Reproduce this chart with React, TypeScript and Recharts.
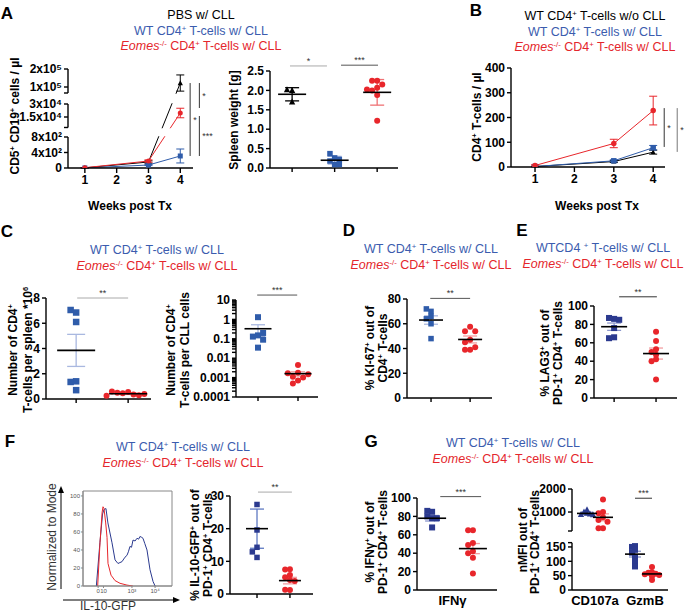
import React from "react";
import {
  ComposedChart,
  ScatterChart,
  LineChart,
  Line,
  Scatter,
  XAxis,
  YAxis,
  ErrorBar,
  ReferenceLine,
  ReferenceArea,
} from "recharts";

const FONT = '"Liberation Sans", Arial, Helvetica, sans-serif';
const BLUE = "#2f5caa";
const BLUE_LT = "#a9b8e0";
const NAVY = "#2b3a8f";
const NAVY_LT = "#8c97cc";
const RED = "#e8262b";
const RED_LT = "#f29ea1";
const T_BLUE = "#3b5cae";
const T_RED = "#e4262c";

// ---- A: CLL load in blood (CD5+ CD19+ cells / µl)
const weeksA = [1, 3, 4];
const pbsLoad = [4, 155, 122000];
const pbsLoadSd = [2, 30, 45000];
const wtLoad = [2, 77, 310];
const wtLoadSd = [1, 15, 180];
const eoLoad = [8, 180, 19600];
const eoLoadSd = [3, 30, 5500];
const loadTicks = [0, 400, 800, 2900, 15000, 30000, 66667, 100000, 200000];
const loadTickLabels = ["0", "4x10²", "8x10²", "", "1.5x10⁴", "3x10⁴", "", "1x10⁵", "2x10⁵"];

// ---- A: spleen weight [g]
const spleenPbs = [2.0, 2.02, 1.7];
const spleenWt = [0.26, 0.18, 0.37, 0.22, 0.09, 0.09];
const spleenEo = [2.25, 2.25, 2.15, 2.07, 2.0, 2.02, 1.88, 1.22];
const spleenMean = [1.9, 0.2, 1.95];
const spleenErr = [0.17, 0.1, 0.33];

// ---- B: CD4+ T-cells / µl
const weeksB = [1, 3, 4];
const noCllT = [2, 22, 60];
const noCllTSd = [1, 4, 8];
const wtT = [2, 25, 78];
const wtTSd = [1, 4, 9];
const eoT = [6, 95, 228];
const eoTSd = [3, 17, 58];

// ---- C: CD4+ per spleen (*10^6) and per CLL cell
const spleenCd4Wt = [6.85, 7.05, 6.1, 1.4, 1.35, 0.7];
const spleenCd4Eo = [0.55, 0.45, 0.35, 0.5, 0.3, 0.6, 0.4, 0.25];
const spleenCd4Mean = [3.85, 0.42];
const spleenCd4Err = [1.27, 0.06];
const perCllWt = [1.3, 0.15, 0.13, 0.2, 0.09, 0.035];
const perCllEo = [0.0045, 0.0018, 0.0011, 0.001, 0.0017, 0.0007, 0.0005, 0.0015];
const perCllMean = [0.33, 0.0016];
const perCllErr = [0.2, 0.0004];
const logTicks = [0.0001, 0.001, 0.01, 0.1, 1, 10];
const logLabels = ["0.0001", "0.001", "0.01", "0.1", "1", "10"];

// ---- D: % KI-67+
const ki67Wt = [70, 72, 66, 64, 60, 48];
const ki67Eo = [57.5, 54, 54, 47, 45, 39, 39, 41];
const ki67Mean = [63, 47.3];
const ki67Err = [3.4, 2.8];

// ---- E: % LAG3+
const lag3Wt = [86, 87, 85, 76, 66, 65];
const lag3Eo = [72, 62, 53, 50, 47, 42, 40, 20];
const lag3Mean = [77.5, 48.3];
const lag3Err = [4, 6];

// ---- F: IL-10-GFP histogram + % IL-10-GFP+
const histX = [15, 19, 22, 23.6, 25.8, 28, 32.6, 36, 39.3, 41.5, 43.8, 47.2, 49.4, 51, 52.8, 54.5, 56.2, 58.5, 60.7, 62.5, 64, 66, 67.4, 69.5, 71.9, 75.3, 78.7, 81];
const histWt = [0, 48, 80, 85, 86, 70, 48, 29, 25, 26, 27, 32, 34, 38, 44, 43, 51, 50, 53, 52, 55, 54, 53, 47, 40, 18, 5, 0];
const histEoX = [16.5, 19.1, 21.5, 22.5, 23.6, 25.5, 27, 28.1, 31.5, 36, 41.6, 49.4, 56];
const histEo = [0, 48, 82, 88, 86, 70, 54, 25, 12, 6, 3, 1, 0];
const histTicks = [17, 23, 55, 81];
const histTickLabels = ["0", "10", "10³", "10⁴"];
const il10Wt = [27.4, 19.6, 14.3, 12.9, 11.2];
const il10Eo = [7.6, 7.5, 5.8, 5.1, 4.3, 4.0, 1.2, 1.3];
const il10Mean = [20, 4.1];
const il10Err = [6, 1.0];

// ---- G: IFNγ, CD107a / GzmB nMFI
const ifngWt = [85, 86, 80, 78, 78, 68];
const ifngEo = [65, 65, 51, 49, 42, 40, 35, 18];
const ifngMean = [78, 45];
const ifngErr = [3, 5.5];
const cd107Wt = [1100, 1000, 950, 920, 900, 880];
const cd107Eo = [1550, 1000, 950, 770, 650, 580, 300, 300];
const gzmbWt = [153, 150, 140, 130, 115, 100, 82];
const gzmbEo = [80, 62, 60, 57, 55, 52, 48, 35];
const nmfiMean = [940, 770, 125, 56];
const nmfiErr = [50, 150, 10, 5];
const nmfiTicks = [0, 50, 100, 150, 165, 175, 1000, 2000];
const nmfiTickLabels = ["0", "50", "100", "150", "", "", "1000", "2000"];

// broken axis in panel A (display units = px above baseline)
function dispA(v: number) {
  if (v <= 800) return (v / 800) * 31;
  if (v < 2900) return 31 + ((v - 800) / 2100) * 9.5;
  if (v <= 30000) return 38 + (v / 15000) * 13;
  if (v < 66667) return 64 + ((v - 30000) / 36667) * 11;
  return 63 + (v / 100000) * 18;
}
// broken axis in panel G right
function dispG(v: number) {
  if (v <= 165) return v * 0.287;
  if (v < 175) return 47.3 + ((v - 165) / 10) * 11.7;
  return 59 + (v - 175) * 0.023;
}

const AX = { stroke: "#000", strokeWidth: 1.4 };
const TICK = { fontSize: 12, fontWeight: 700, fill: "#000" };

type Shape = "square" | "circle" | "triangle";

function Mark({ cx, cy, shape, size, color }: { cx: number; cy: number; shape: Shape; size: number; color: string }) {
  if (cx == null || cy == null || isNaN(cx) || isNaN(cy)) return <g />;
  const r = size / 2;
  if (shape === "square") return <rect x={cx - r} y={cy - r} width={size} height={size} fill={color} />;
  if (shape === "triangle")
    return (
      <polygon
        points={`${cx},${cy - r * 1.15} ${cx - r * 1.05},${cy + r * 0.85} ${cx + r * 1.05},${cy + r * 0.85}`}
        fill={color}
      />
    );
  return <circle cx={cx} cy={cy} r={r} fill={color} />;
}

// simple beeswarm: horizontal pixel offsets so that marks don't pile up
function swarm(ys: number[], gap: number): number[] {
  const placed: [number, number][] = [];
  return ys.map((y) => {
    for (let k = 0; k < 15; k++) {
      const off = k === 0 ? 0 : (k % 2 ? -1 : 1) * Math.ceil(k / 2) * gap;
      if (placed.every(([px, py]) => Math.hypot(px - off, py - y) >= gap - 0.01)) {
        placed.push([off, y]);
        return off;
      }
    }
    return 0;
  });
}

function labeller(ticks: number[], labels: string[], f: (v: number) => number) {
  return (v: number) => {
    const i = ticks.findIndex((t) => Math.abs(f(t) - v) <= 1e-6 * Math.max(1e-6, Math.abs(v)) + 1e-9);
    return i >= 0 ? labels[i] : "";
  };
}

const errD = (f: (v: number) => number, m: number, e: number) => [f(m) - f(Math.max(m - e, 1e-9)), f(m + e) - f(m)];

type Box = { x0: number; x1: number; yTop: number; yBot: number };
type Grp = {
  x: number;
  vals: number[];
  mean: number;
  err: number;
  color: string;
  errColor: string;
  shape: Shape;
  size: number;
  spread?: number;
};
type Sig = { x1: number; x2: number; y: number; text: string; color: string };

type DotSpec = {
  box: Box;
  xDomain: [number, number];
  yDomain: [number, number];
  yTicks: number[];
  yTickLabels: string[];
  log?: boolean;
  disp?: (v: number) => number;
  groups: Grp[];
  sigs: Sig[];
  meanW: number;
  capW: number;
  yw: number;
  mt?: number;
  mr?: number;
  xh?: number;
  xTicks: number[];
  xTickLabels?: string[];
  xTickLine?: boolean;
  axisSegs?: [number, number][];
};

function DotPanel(p: DotSpec) {
  const { box } = p;
  const mt = p.mt ?? 18;
  const mr = p.mr ?? 8;
  const xh = p.xh ?? 10;
  const f = p.disp ?? ((v: number) => v);
  const h = box.yBot - box.yTop;
  const [d0, d1] = p.yDomain;
  const toPx = (v: number) =>
    p.log
      ? ((Math.log10(v) - Math.log10(d0)) / (Math.log10(d1) - Math.log10(d0))) * h
      : ((f(v) - d0) / (d1 - d0)) * h;
  const pxPerX = (box.x1 - box.x0) / (p.xDomain[1] - p.xDomain[0]);
  const yFmt = labeller(p.yTicks, p.yTickLabels, f);
  return (
    <div style={{ position: "absolute", left: box.x0 - p.yw, top: box.yTop - mt }}>
      <ScatterChart
        width={box.x1 - box.x0 + p.yw + mr}
        height={h + mt + xh}
        margin={{ top: mt, right: mr, bottom: 0, left: 0 }}
      >
        <XAxis
          type="number"
          dataKey="x"
          domain={p.xDomain}
          allowDataOverflow
          ticks={p.xTicks}
          interval={0}
          tickFormatter={(v: number) => {
            const i = p.xTicks.indexOf(v);
            return p.xTickLabels && i >= 0 ? p.xTickLabels[i] : "";
          }}
          tick={{ ...TICK, fontSize: 13 }}
          tickSize={4}
          tickLine={p.xTickLine === false ? false : AX}
          axisLine={AX}
          height={xh}
        />
        <YAxis
          type="number"
          dataKey="y"
          scale={p.log ? "log" : "linear"}
          domain={p.yDomain}
          allowDataOverflow
          ticks={p.yTicks.map(f)}
          interval={0}
          tickFormatter={yFmt}
          tick={TICK}
          tickSize={4}
          tickLine={AX}
          axisLine={p.axisSegs ? false : AX}
          width={p.yw}
        />
        {p.axisSegs &&
          p.axisSegs.map((s, i) => (
            <ReferenceLine
              key={"seg" + i}
              segment={[
                { x: p.xDomain[0], y: s[0] },
                { x: p.xDomain[0], y: s[1] },
              ]}
              stroke="#000"
              strokeWidth={1.4}
              ifOverflow="visible"
            />
          ))}
        {p.groups.map((g, gi) => {
          const offs = swarm(g.vals.map(toPx), g.size * (g.spread ?? 0.85));
          const pts = g.vals.map((v, i) => ({ x: g.x + offs[i] / pxPerX, y: f(v) }));
          return (
            <Scatter
              key={"pts" + gi}
              data={pts}
              isAnimationActive={false}
              shape={(s: any) => <Mark cx={s.cx} cy={s.cy} shape={g.shape} size={g.size} color={g.color} />}
            />
          );
        })}
        {p.groups.map((g, gi) => (
          <Scatter
            key={"mean" + gi}
            data={[{ x: g.x, y: f(g.mean), e: errD(f, g.mean, g.err) }]}
            isAnimationActive={false}
            shape={(s: any) => (
              <line x1={s.cx - p.meanW / 2} x2={s.cx + p.meanW / 2} y1={s.cy} y2={s.cy} stroke="#000" strokeWidth={1.6} />
            )}
          >
            <ErrorBar dataKey="e" direction="y" width={p.capW} stroke={g.errColor} strokeWidth={1.3} />
          </Scatter>
        ))}
        {p.sigs.map((s, i) => (
          <ReferenceLine
            key={"sig" + i}
            segment={[
              { x: s.x1, y: f(s.y) },
              { x: s.x2, y: f(s.y) },
            ]}
            stroke={s.color}
            strokeWidth={1}
            ifOverflow="visible"
            label={{ value: s.text, position: "top", fontSize: 9, fill: "#333", offset: 2 }}
          />
        ))}
      </ScatterChart>
    </div>
  );
}

type Series = { key: string; vals: number[]; sds: number[]; color: string; shape: Shape; size: number };
type VSig = { x: number; from: number; to: number; text: string; color: string };

function TimeCourse(p: {
  box: Box;
  weeks: number[];
  xDomain: [number, number];
  yDomain: [number, number];
  yTicks: number[];
  yTickLabels: string[];
  disp?: (v: number) => number;
  series: Series[];
  gaps?: [number, number][];
  segs?: [number, number][];
  sigs: VSig[];
  yw: number;
  mt: number;
  mr: number;
}) {
  const { box } = p;
  const f = p.disp ?? ((v: number) => v);
  const xh = 26;
  const rows = p.weeks.map((w, i) => {
    const r: any = { week: w };
    p.series.forEach((s) => {
      r[s.key] = f(s.vals[i]);
      r[s.key + "E"] = errD(f, s.vals[i], s.sds[i]);
    });
    return r;
  });
  return (
    <div style={{ position: "absolute", left: box.x0 - p.yw, top: box.yTop - p.mt }}>
      <ComposedChart
        width={box.x1 - box.x0 + p.yw + p.mr}
        height={box.yBot - box.yTop + p.mt + xh}
        data={rows}
        margin={{ top: p.mt, right: p.mr, bottom: 0, left: 0 }}
      >
        <XAxis
          type="number"
          dataKey="week"
          domain={p.xDomain}
          allowDataOverflow
          ticks={[1, 2, 3, 4]}
          interval={0}
          tick={TICK}
          tickSize={5}
          tickLine={AX}
          axisLine={AX}
          height={xh}
        />
        <YAxis
          type="number"
          domain={p.yDomain}
          allowDataOverflow
          ticks={p.yTicks.map(f)}
          interval={0}
          tickFormatter={labeller(p.yTicks, p.yTickLabels, f)}
          tick={TICK}
          tickSize={4}
          tickLine={AX}
          axisLine={p.segs ? false : AX}
          width={p.yw}
        />
        {p.series.map((s) => (
          <Line
            key={s.key}
            dataKey={s.key}
            stroke={s.color}
            strokeWidth={1}
            isAnimationActive={false}
            dot={(d: any) => <Mark key={s.key + d.index} cx={d.cx} cy={d.cy} shape={s.shape} size={s.size} color={s.color} />}
            activeDot={false}
          >
            <ErrorBar dataKey={s.key + "E"} direction="y" width={4} stroke={s.color} strokeWidth={1} />
          </Line>
        ))}
        {p.gaps &&
          p.gaps.map((g, i) => (
            <ReferenceArea
              key={"gap" + i}
              x1={p.xDomain[0] + 0.08}
              x2={4.22}
              y1={g[0]}
              y2={g[1]}
              fill="#fff"
              fillOpacity={1}
              stroke="none"
              ifOverflow="hidden"
              {...({ zIndex: 2000 } as any)}
            />
          ))}
        {p.segs &&
          p.segs.map((s, i) => (
            <ReferenceLine
              key={"seg" + i}
              segment={[
                { x: p.xDomain[0], y: s[0] },
                { x: p.xDomain[0], y: s[1] },
              ]}
              stroke="#000"
              strokeWidth={1.4}
              ifOverflow="visible"
            />
          ))}
        {p.sigs.map((s, i) => (
          <ReferenceLine
            key={"sig" + i}
            segment={[
              { x: s.x, y: f(s.from) },
              { x: s.x, y: f(s.to) },
            ]}
            stroke={s.color}
            strokeWidth={1}
            ifOverflow="visible"
            label={{ value: s.text, position: "right", fontSize: 9, fill: "#333", offset: 3 }}
          />
        ))}
      </ComposedChart>
    </div>
  );
}

function Hist() {
  const box: Box = { x0: 83, x1: 172, yTop: 491, yBot: 586 };
  const yw = 20;
  const mt = 3;
  const mr = 4;
  const xh = 12;
  const wtRows = histX.map((x, i) => ({ x, y: histWt[i] }));
  const eoRows = histEoX.map((x, i) => ({ x, y: histEo[i] }));
  const small = { fontSize: 6, fill: "#555" };
  return (
    <div style={{ position: "absolute", left: box.x0 - yw, top: box.yTop - mt }}>
      <LineChart
        width={box.x1 - box.x0 + yw + mr}
        height={box.yBot - box.yTop + mt + xh}
        margin={{ top: mt, right: mr, bottom: 0, left: 0 }}
      >
        <XAxis
          type="number"
          dataKey="x"
          domain={[0, 100]}
          allowDataOverflow
          ticks={histTicks}
          interval={0}
          tickFormatter={(v: number) => histTickLabels[histTicks.indexOf(v)] ?? ""}
          tick={small}
          tickSize={2}
          tickMargin={1}
          tickLine={{ stroke: "#888" }}
          axisLine={{ stroke: "#888" }}
          height={xh}
        />
        <YAxis
          type="number"
          dataKey="y"
          domain={[0, 105.5]}
          allowDataOverflow
          ticks={[0, 20, 40, 60, 80, 100]}
          interval={0}
          tick={small}
          tickSize={2}
          tickMargin={1}
          tickLine={{ stroke: "#888" }}
          axisLine={{ stroke: "#888" }}
          width={yw}
        />
        <ReferenceArea x1={0} x2={100} y1={0} y2={105.5} fill="none" stroke="#888" strokeWidth={1} ifOverflow="visible" />
        <Line data={wtRows} dataKey="y" stroke={NAVY} strokeWidth={1} dot={false} activeDot={false} isAnimationActive={false} />
        <Line data={eoRows} dataKey="y" stroke={RED} strokeWidth={1} dot={false} activeDot={false} isAnimationActive={false} />
      </LineChart>
    </div>
  );
}

function Txt({
  x,
  y,
  children,
  size = 12.5,
  color = "#000",
  bold = false,
  rotate = false,
}: {
  x: number;
  y: number;
  children: React.ReactNode;
  size?: number;
  color?: string;
  bold?: boolean;
  rotate?: boolean;
}) {
  return (
    <div
      style={{
        position: "absolute",
        left: x,
        top: y,
        transform: `translate(-50%, -50%)${rotate ? " rotate(-90deg)" : ""}`,
        whiteSpace: "nowrap",
        fontSize: size,
        fontWeight: bold ? 700 : 400,
        color,
        lineHeight: 1,
      }}
    >
      {children}
    </div>
  );
}

const Sup = ({ children }: { children: React.ReactNode }) => (
  <sup style={{ fontSize: "0.62em", lineHeight: 0, verticalAlign: "0.55em" }}>{children}</sup>
);
const wtLine = (
  <>
    WT CD4<Sup>+</Sup> T-cells w/ CLL
  </>
);
const eoLine = (
  <>
    <i>Eomes</i>
    <Sup>-/-</Sup> CD4<Sup>+</Sup> T-cells w/ CLL
  </>
);

function Titles({ x, y, first }: { x: number; y: number; first?: React.ReactNode }) {
  const gap = 15.5;
  const y0 = first ? y + gap : y;
  return (
    <>
      {first && (
        <Txt x={x} y={y}>
          {first}
        </Txt>
      )}
      <Txt x={x} y={y0} color={T_BLUE}>
        {wtLine}
      </Txt>
      <Txt x={x} y={y0 + gap} color={T_RED}>
        {eoLine}
      </Txt>
    </>
  );
}

const sq = (x: number, vals: number[], mean: number, err: number, color = BLUE, errColor = BLUE_LT, size = 6, spread?: number): Grp => ({
  x, vals, mean, err, color, errColor, shape: "square", size, spread,
});
const ci = (x: number, vals: number[], mean: number, err: number, errColor = RED_LT, size = 6, spread?: number): Grp => ({
  x, vals, mean, err, color: RED, errColor, shape: "circle", size, spread,
});

export default function App() {
  const minorLog: number[] = [];
  logTicks.slice(0, -1).forEach((d) => {
    for (let k = 2; k <= 9; k++) minorLog.push(d * k);
  });
  const c2Ticks = [...logTicks, ...minorLog];
  const c2Labels = [...logLabels, ...minorLog.map(() => "")];

  return (
    <div
      style={{
        position: "absolute",
        left: 0,
        top: 0,
        width: 685,
        height: 614,
        background: "#fff",
        fontFamily: FONT,
        color: "#000",
        overflow: "hidden",
      }}
    >
      {/* panel letters */}
      <Txt x={7} y={13} size={17} bold>A</Txt>
      <Txt x={476} y={10} size={17} bold>B</Txt>
      <Txt x={7} y={231} size={17} bold>C</Txt>
      <Txt x={349} y={230} size={17} bold>D</Txt>
      <Txt x={522} y={230} size={17} bold>E</Txt>
      <Txt x={10} y={441} size={17} bold>F</Txt>
      <Txt x={371} y={441} size={17} bold>G</Txt>

      {/* legends */}
      <Titles x={201} y={15} first="PBS w/ CLL" />
      <Txt x={595} y={16}>
        WT CD4<Sup>+</Sup> T-cells w/o CLL
      </Txt>
      <Txt x={595} y={32} color={T_BLUE}>{wtLine}</Txt>
      <Txt x={595} y={47} color={T_RED}>{eoLine}</Txt>
      <Titles x={157} y={250} />
      <Titles x={431} y={249} />
      <Txt x={603} y={248} color={T_BLUE}>
        WTCD4 <Sup>+</Sup> T-cells w/ CLL
      </Txt>
      <Txt x={603} y={263.5} color={T_RED}>{eoLine}</Txt>
      <Titles x={183} y={447} />
      <Titles x={513} y={443} />

      {/* axis titles */}
      <Txt x={15} y={116} size={12} bold rotate>
        CD5<Sup>+</Sup> CD19<Sup>+</Sup> cells / µl
      </Txt>
      <Txt x={234} y={120} size={12} bold rotate>Spleen weight [g]</Txt>
      <Txt x={477} y={117} size={12} bold rotate>
        CD4<Sup>+</Sup> T-cells / µl
      </Txt>
      <Txt x={130} y={206} size={12} bold>Weeks post Tx</Txt>
      <Txt x={597} y={206} size={12} bold>Weeks post Tx</Txt>

      <Txt x={13} y={350} size={12} bold rotate>
        Number of CD4<Sup>+</Sup>
      </Txt>
      <Txt x={28} y={350} size={12} bold rotate>
        T-cells per spleen *10<Sup>6</Sup>
      </Txt>
      <Txt x={171} y={350} size={12} bold rotate>
        Number of CD4<Sup>+</Sup>
      </Txt>
      <Txt x={185} y={350} size={12} bold rotate>T-cells per CLL cells</Txt>
      <Txt x={370} y={348} size={12} bold rotate>
        % KI-67<Sup>+</Sup> out of
      </Txt>
      <Txt x={383} y={348} size={12} bold rotate>
        CD4<Sup>+</Sup> T-cells
      </Txt>
      <Txt x={545} y={353} size={12} bold rotate>
        % LAG3<Sup>+</Sup> out of
      </Txt>
      <Txt x={558} y={353} size={12} bold rotate>
        PD-1<Sup>+</Sup> CD4<Sup>+</Sup> T-cells
      </Txt>

      <Txt x={52} y={537} size={12} color="#333" rotate>Normalized to Mode</Txt>
      <Txt x={108} y={606} size={12} color="#333">IL-10-GFP</Txt>
      <Txt x={195} y={545} size={12} bold rotate>
        % IL-10-GFP<Sup>+</Sup> out of
      </Txt>
      <Txt x={208} y={545} size={12} bold rotate>
        PD-1<Sup>+</Sup> CD4<Sup>+</Sup> T-cells
      </Txt>
      <Txt x={370} y={542} size={12} bold rotate>
        % IFNγ<Sup>+</Sup> out of
      </Txt>
      <Txt x={383} y={542} size={12} bold rotate>
        PD-1<Sup>+</Sup> CD4<Sup>+</Sup> T-cells
      </Txt>
      <Txt x={523} y={540} size={12} bold rotate>nMFI out of</Txt>
      <Txt x={535} y={542} size={12} bold rotate>
        PD-1<Sup>+</Sup> CD4<Sup>+</Sup> T-cells
      </Txt>

      {/* A left: tumour load, broken axis */}
      <TimeCourse
        box={{ x0: 68, x1: 193, yTop: 69, yBot: 168 }}
        weeks={weeksA}
        xDomain={[0.47, 4.4]}
        yDomain={[0, 99]}
        yTicks={loadTicks}
        yTickLabels={loadTickLabels}
        disp={dispA}
        series={[
          { key: "pbs", vals: pbsLoad, sds: pbsLoadSd, color: "#000", shape: "triangle", size: 5 },
          { key: "wt", vals: wtLoad, sds: wtLoadSd, color: BLUE, shape: "square", size: 5 },
          { key: "eo", vals: eoLoad, sds: eoLoadSd, color: RED, shape: "circle", size: 5 },
        ]}
        gaps={[
          [dispA(800) + 0.8, dispA(2900) - 0.8],
          [dispA(30000) + 0.8, dispA(66667) - 0.8],
        ]}
        segs={[
          [0, dispA(800)],
          [dispA(2900), dispA(30000)],
          [dispA(66667), dispA(200000)],
        ]}
        sigs={[
          { x: 4.31, from: 122000, to: 310, text: "*", color: "#333" },
          { x: 4.6, from: 122000, to: 25400, text: "*", color: "#333" },
          { x: 4.6, from: 16150, to: 310, text: "***", color: "#333" },
        ]}
        yw={62}
        mt={6}
        mr={30}
      />

      {/* A right: spleen weight */}
      <DotPanel
        box={{ x0: 270, x1: 398, yTop: 71, yBot: 168 }}
        xDomain={[0.48, 3.49]}
        yDomain={[0, 2.5]}
        yTicks={[0, 0.5, 1, 1.5, 2, 2.5]}
        yTickLabels={["0.0", "0.5", "1.0", "1.5", "2.0", "2.5"]}
        groups={[
          { x: 1, vals: spleenPbs, mean: spleenMean[0], err: spleenErr[0], color: "#000", errColor: "#000", shape: "triangle", size: 6 },
          sq(2, spleenWt, spleenMean[1], spleenErr[1], BLUE, BLUE_LT, 5.5),
          ci(3, spleenEo, spleenMean[2], spleenErr[2], "#ef7275", 6),
        ]}
        sigs={[
          { x1: 0.95, x2: 1.82, y: 2.63, text: "*", color: "#aaa" },
          { x1: 2.15, x2: 3.02, y: 2.65, text: "***", color: "#555" },
        ]}
        meanW={28}
        capW={7}
        yw={36}
        xTicks={[1, 2, 3]}
      />

      {/* B */}
      <TimeCourse
        box={{ x0: 511, x1: 665, yTop: 68, yBot: 167 }}
        weeks={weeksB}
        xDomain={[0.39, 4.3]}
        yDomain={[0, 400]}
        yTicks={[0, 100, 200, 300, 400]}
        yTickLabels={["0", "100", "200", "300", "400"]}
        series={[
          { key: "ctl", vals: noCllT, sds: noCllTSd, color: "#000", shape: "triangle", size: 4.5 },
          { key: "wt", vals: wtT, sds: wtTSd, color: BLUE, shape: "square", size: 5.5 },
          { key: "eo", vals: eoT, sds: eoTSd, color: RED, shape: "circle", size: 5.5 },
        ]}
        sigs={[
          { x: 4.28, from: 238, to: 81, text: "*", color: "#333" },
          { x: 4.61, from: 238, to: 61, text: "*", color: "#777" },
        ]}
        yw={40}
        mt={8}
        mr={20}
      />

      {/* C left */}
      <DotPanel
        box={{ x0: 46, x1: 151, yTop: 298, yBot: 399 }}
        xDomain={[0.42, 2.44]}
        yDomain={[0, 8]}
        yTicks={[0, 2, 4, 6, 8]}
        yTickLabels={["0", "2", "4", "6", "8"]}
        groups={[
          sq(1, spleenCd4Wt, spleenCd4Mean[0], spleenCd4Err[0], BLUE, BLUE_LT, 6.5),
          ci(2, spleenCd4Eo, spleenCd4Mean[1], spleenCd4Err[1], RED_LT, 6, 0.9),
        ]}
        sigs={[{ x1: 1.02, x2: 2.0, y: 8, text: "**", color: "#aaa" }]}
        meanW={38}
        capW={9}
        yw={24}
        xTicks={[1, 2]}
      />

      {/* C right (log) */}
      <DotPanel
        box={{ x0: 236, x1: 318, yTop: 300, yBot: 397 }}
        xDomain={[0.45, 2.5]}
        yDomain={[0.0001, 10]}
        log
        yTicks={c2Ticks}
        yTickLabels={c2Labels}
        groups={[
          sq(1, perCllWt, perCllMean[0], perCllErr[0], BLUE, BLUE_LT, 6),
          ci(2, perCllEo, perCllMean[1], perCllErr[1]),
        ]}
        sigs={[{ x1: 0.98, x2: 1.98, y: 18, text: "***", color: "#555" }]}
        meanW={27}
        capW={7}
        yw={48}
        xTicks={[1, 2]}
      />

      {/* D */}
      <DotPanel
        box={{ x0: 407, x1: 492, yTop: 299, yBot: 398 }}
        xDomain={[0.385, 2.56]}
        yDomain={[0, 80]}
        yTicks={[0, 20, 40, 60, 80]}
        yTickLabels={["0", "20", "40", "60", "80"]}
        groups={[
          sq(1, ki67Wt, ki67Mean[0], ki67Err[0], BLUE, BLUE_LT, 5.5),
          ci(2, ki67Eo, ki67Mean[1], ki67Err[1]),
        ]}
        sigs={[{ x1: 0.98, x2: 2.0, y: 80.5, text: "**", color: "#555" }]}
        meanW={24}
        capW={7}
        yw={26}
        xTicks={[1, 2]}
      />

      {/* E */}
      <DotPanel
        box={{ x0: 594, x1: 677, yTop: 306, yBot: 398 }}
        xDomain={[0.52, 2.5]}
        yDomain={[0, 100]}
        yTicks={[0, 20, 40, 60, 80, 100]}
        yTickLabels={["0", "20", "40", "60", "80", "100"]}
        groups={[
          sq(1, lag3Wt, lag3Mean[0], lag3Err[0], NAVY, NAVY_LT, 6),
          ci(2, lag3Eo, lag3Mean[1], lag3Err[1], RED_LT, 6, 0.75),
        ]}
        sigs={[{ x1: 1.12, x2: 2.02, y: 110, text: "**", color: "#333" }]}
        meanW={26}
        capW={7}
        yw={32}
        mr={6}
        xTicks={[1, 2]}
      />

      {/* F histogram */}
      <Hist />
      <svg width={685} height={614} style={{ position: "absolute", left: 0, top: 0, pointerEvents: "none" }}>
        <line x1={61} y1={589} x2={61} y2={491} stroke="#000" strokeWidth={1} />
        <polygon points="61,486 58,493 64,493" fill="#000" />
        <line x1={63} y1={600} x2={175} y2={600} stroke="#000" strokeWidth={1} />
        <polygon points="180,600 173,597 173,603" fill="#000" />
      </svg>

      {/* F right */}
      <DotPanel
        box={{ x0: 230, x1: 313, yTop: 496, yBot: 594 }}
        xDomain={[0.18, 2.7]}
        yDomain={[0, 30]}
        yTicks={[0, 10, 20, 30]}
        yTickLabels={["0", "10", "20", "30"]}
        groups={[
          sq(1, il10Wt, il10Mean[0], il10Err[0], NAVY, "#5e79c2", 5.5),
          ci(2, il10Eo, il10Mean[1], il10Err[1], RED_LT, 6, 0.8),
        ]}
        sigs={[{ x1: 1.03, x2: 2.06, y: 31.2, text: "**", color: "#aaa" }]}
        meanW={22}
        capW={7}
        yw={26}
        xTicks={[1, 2]}
      />

      {/* G left */}
      <DotPanel
        box={{ x0: 417, x1: 497, yTop: 498, yBot: 590 }}
        xDomain={[0.63, 2.59]}
        yDomain={[0, 100]}
        yTicks={[0, 20, 40, 60, 80, 100]}
        yTickLabels={["0", "20", "40", "60", "80", "100"]}
        groups={[
          sq(1, ifngWt, ifngMean[0], ifngErr[0], NAVY, NAVY_LT, 6, 0.8),
          ci(2, ifngEo, ifngMean[1], ifngErr[1], RED_LT, 6, 0.8),
        ]}
        sigs={[{ x1: 1.2, x2: 2.2, y: 101.5, text: "***", color: "#555" }]}
        meanW={28}
        capW={7}
        yw={32}
        xh={22}
        xTicks={[1.5]}
        xTickLabels={["IFNγ"]}
        xTickLine={false}
      />

      {/* G right: broken axis */}
      <DotPanel
        box={{ x0: 572, x1: 668, yTop: 489, yBot: 590 }}
        xDomain={[0.54, 2.46]}
        yDomain={[0, 101]}
        disp={dispG}
        yTicks={nmfiTicks}
        yTickLabels={nmfiTickLabels}
        axisSegs={[
          [0, dispG(165)],
          [dispG(175), dispG(2000)],
        ]}
        groups={[
          { x: 0.84, vals: cd107Wt, mean: nmfiMean[0], err: nmfiErr[0], color: NAVY, errColor: NAVY_LT, shape: "triangle", size: 6, spread: 0.5 },
          ci(1.16, cd107Eo, nmfiMean[1], nmfiErr[1], RED_LT, 6, 0.75),
          sq(1.8, gzmbWt, nmfiMean[2], nmfiErr[2], NAVY, NAVY_LT, 6, 0.5),
          ci(2.14, gzmbEo, nmfiMean[3], nmfiErr[3], RED_LT, 6, 0.6),
        ]}
        sigs={[{ x1: 1.8, x2: 2.14, y: 1600, text: "***", color: "#333" }]}
        meanW={20}
        capW={6}
        yw={36}
        mr={12}
        xh={22}
        xTicks={[1, 2]}
        xTickLabels={["CD107a", "GzmB"]}
        xTickLine={false}
      />
    </div>
  );
}
